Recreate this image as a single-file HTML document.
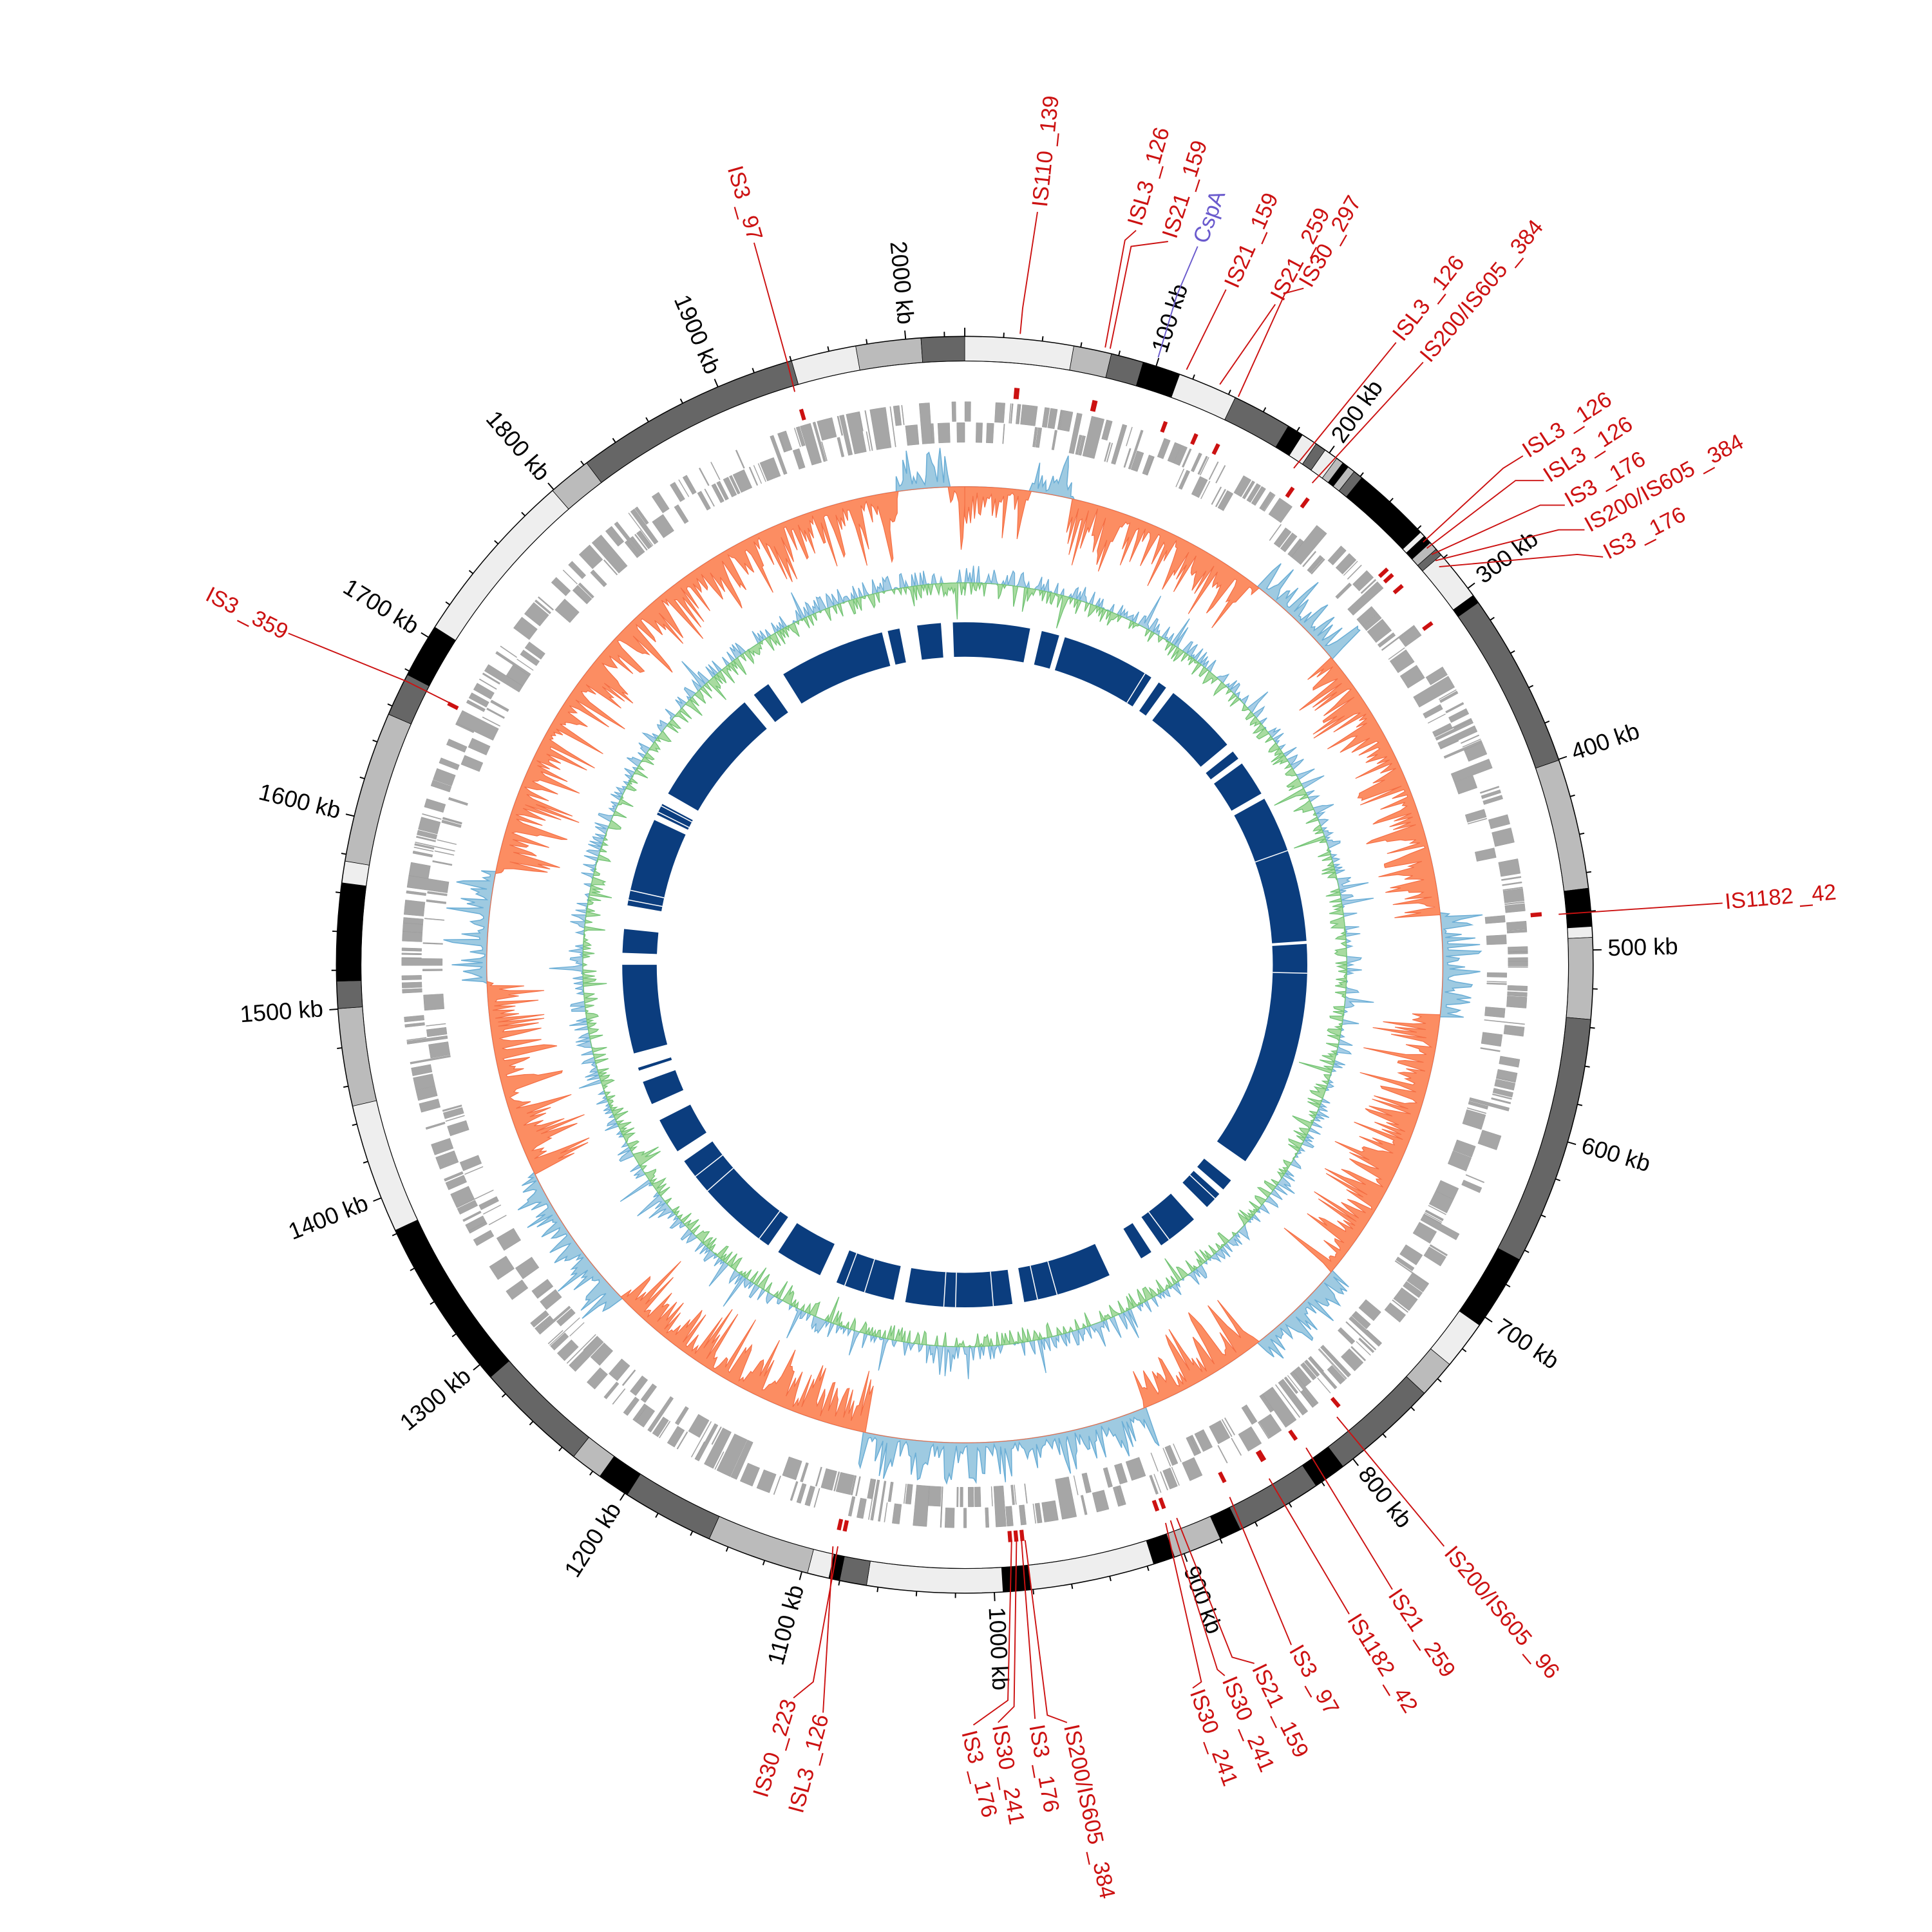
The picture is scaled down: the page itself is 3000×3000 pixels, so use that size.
<!DOCTYPE html>
<html><head><meta charset="utf-8">
<style>html,body{margin:0;padding:0;background:#fff;}svg{display:block}
text{font-family:"Liberation Sans",sans-serif;}</style></head>
<body>
<svg id="s" xmlns="http://www.w3.org/2000/svg" width="3000" height="3000" viewBox="0 0 1568 1568">
<rect width="1568" height="1568" fill="#fff"/>
<g id="g"></g>
</svg>
<script>
(function(){
var CX=783,CY=783,NS="http://www.w3.org/2000/svg",G=document.getElementById("g");
var seed=12345;function rnd(){seed=(seed*1103515245+12345)%2147483648;return seed/2147483648;}
function P(a,r){var t=a*Math.PI/180;return [CX+r*Math.sin(t),CY-r*Math.cos(t)];}
function f(n){return n.toFixed(2);}
function sector(a1,a2,r1,r2){var p1=P(a1,r2),p2=P(a2,r2),p3=P(a2,r1),p4=P(a1,r1);var l=(a2-a1)>180?1:0;
return "M"+f(p1[0])+","+f(p1[1])+"A"+r2+","+r2+" 0 "+l+" 1 "+f(p2[0])+","+f(p2[1])+"L"+f(p3[0])+","+f(p3[1])+"A"+r1+","+r1+" 0 "+l+" 0 "+f(p4[0])+","+f(p4[1])+"Z";}
function el(tag,attrs,txt){var e=document.createElementNS(NS,tag);for(var k in attrs)e.setAttribute(k,attrs[k]);if(txt!=null)e.textContent=txt;G.appendChild(e);return e;}
var L="#eeeeee",Gr="#bbbbbb",D="#666666",B="#000000";
var segs=[[0,10,L],[10,13.5,Gr],[13.5,16.5,D],[16.5,20,B],[20,25.5,L],[25.5,31,D],[31,32.5,B],[32.5,34,L],[34,35,D],[35,36.3,L],[36.3,37,Gr],[37,37.6,B],[37.6,38.3,Gr],[38.3,39.2,D],[39.2,46.5,B],[46.5,47,L],[47,47.8,B],[47.8,48.6,Gr],[48.6,49.3,D],[49.3,54,L],[54,54.8,B],[54.8,71,D],[71,83,Gr],[83,86.5,B],[86.5,87.5,L],[87.5,95,Gr],[95,118,D],[118,125,B],[125,129.5,L],[129.5,133,Gr],[133,143,D],[143,146,B],[146,154,D],[154,156,B],[156,160.5,Gr],[160.5,162.5,B],[162.5,174,L],[174,176.5,B],[176.5,189,L],[189,191.5,D],[191.5,192.5,B],[192.5,194.5,L],[194.5,204,Gr],[204,212.5,D],[212.5,215.5,B],[215.5,218.5,Gr],[218.5,229,D],[229,245,B],[245,257,L],[257,266,Gr],[266,268.5,D],[268.5,277.5,B],[277.5,279.5,L],[279.5,293.5,Gr],[293.5,297.5,D],[297.5,302.5,B],[302.5,319,L],[319,323,Gr],[323,344,D],[344,350,L],[350,356,Gr],[356,360,D]];
segs.forEach(function(s){el("path",{d:sector(s[0],s[1],490,510),fill:s[2],stroke:"#000","stroke-width":0.4});});
el("circle",{cx:CX,cy:CY,r:510,fill:"none",stroke:"#000","stroke-width":0.8});
el("circle",{cx:CX,cy:CY,r:490,fill:"none",stroke:"#000","stroke-width":0.6});
var K=0.1773,td="";
for(var kb=0;kb<2030;kb+=20){var a=kb*K,len=(kb%100==0)?7:4;var p=P(a,510),q=P(a,510+len);td+="M"+f(p[0])+","+f(p[1])+"L"+f(q[0])+","+f(q[1]);}
el("path",{d:td,stroke:"#000","stroke-width":1,fill:"none"});
for(var kb=100;kb<=2000;kb+=100){var a=kb*K,p=P(a,522);var left=a>180;
el("text",{x:f(p[0]),y:f(p[1]),"font-size":19,"text-anchor":left?"end":"start","dominant-baseline":"middle",transform:"rotate("+f(left?a+90:a-90)+" "+f(p[0])+" "+f(p[1])+")",fill:"#000"},kb+" kb");}
var marks=[[648,325],[825,314],[826,314],[889,322],[890,322],[947,340],[972,350],[990,358],[1050,395],[1065,400],[1128,460],[1135,462],[1150,465],[1163,505],[1250,742],[1252,742],[1088,1143],[1053,1170],[1028,1188],[1027,1189],[995,1205],[945,1225],[940,1228],[830,1252],[825,1252],[820,1252],[685,1245],[680,1245],[362,570]];
var md="";marks.forEach(function(m){var a=Math.atan2(m[0]-CX,-(m[1]-CY))*180/Math.PI;if(a<0)a+=360;md+=sector(a-0.2,a+0.2,461,470);});
el("path",{d:md,fill:"#cc1111"});
// gene track: finer
var gd="",a=0;
while(a<360){var ln=0.06+Math.pow(rnd(),2.5)*1.6;var lane=rnd()<0.5;var r1=lane?441:424,r2=lane?457:440;if(rnd()<0.12){r1=424;r2=457;}
gd+=sector(a,Math.min(360,a+ln),r1,r2);a+=ln+Math.pow(rnd(),2)*0.6;}
el("path",{d:gd,fill:"#a6a6a6",stroke:"#9a9a9a","stroke-width":0.25});
var blue=[[-8,-2],[8,13],[38,50],[84,96],[130,142],[158,192],[226,244],[268,281],[352,356]];
function isBlue(a){for(var i=0;i<blue.length;i++){var b0=blue[i][0],b1=blue[i][1];var x=a;if(b0<0&&x>180)x-=360;if(x>=b0&&x<=b1)return true;}return false;}
var R0=388;var st=0.25;
var pd=[],nd=[];
for(var a=0;a<=360;a+=st){var env=0.35+0.65*Math.abs(Math.sin(a*0.9+1));var v=(0.1+0.9*Math.pow(rnd(),1.6))*env;var isb=isBlue(a);
pd.push(isb?v*36:0);nd.push(isb?0:v*58);}
function trace(arr,sign,base){var s="";for(var i=0;i<arr.length;i++){var p=P(i*st,base+sign*arr[i]);s+=(i?"L":"M")+f(p[0])+","+f(p[1]);}
for(var i=arr.length-1;i>=0;i--){var p=P(i*st,base);s+="L"+f(p[0])+","+f(p[1]);}return s+"Z";}
el("path",{d:trace(pd,1,R0),fill:"#9ecae1",stroke:"#6baed6","stroke-width":0.8});
el("path",{d:trace(nd,-1,R0),fill:"#fc8d62",stroke:"#f46d43","stroke-width":0.6});
var R1=310,gp=[],gn=[];
for(var a=0;a<=360;a+=st){var v=(rnd()-0.5)*2;var m=rnd()<0.06?2.5:1;v*=m*12;
if(v>0){gp.push(v);gn.push(0);}else{gn.push(-v);gp.push(0);}}
el("path",{d:trace(gp,1,R1),fill:"#a6cde6",stroke:"#6baed6","stroke-width":0.7});
el("path",{d:trace(gn,-1,R1),fill:"#a8dba0",stroke:"#74c476","stroke-width":0.7});
var nv=[[-20,-14],[-13,-11],[-8,-4],[-2,11],[13,16],[17,33],[34.5,36],[37.5,50],[51.5,53],[54,60],[61,86],[86.5,125],[129,131],[132,135],[138,145],[147,149],[155,170],[172,190],[192,202],[205,213],[215,235],[237,243],[246,250],[252,252.5],[255,270],[272,276],[280,295],[296,298],[300,320],[322,325],[328,343]];
var nvd="";nv.forEach(function(s){nvd+=sector(s[0],s[1],250,278);});
el("path",{d:nvd,fill:"#0b3d7e"});
var wl="";for(var i=0;i<25;i++){var a=rnd()*360;var p=P(a,250),q=P(a,278);wl+="M"+f(p[0])+","+f(p[1])+"L"+f(q[0])+","+f(q[1]);}
el("path",{d:wl,stroke:"#fff","stroke-width":0.8});
var RED="#cc1111";
var leaders=[[[645,318],[640,298],[612,197]],[[828,271],[830,250],[842,172]],[[897,282],[913,195],[922,187]],[[901,283],[918,200],[948,196]],
[[963,300],[995,235]],[[990,312],[1035,247]],[[1005,322],[1043,238],[1058,234]],[[1050,380],[1133,278]],[[1065,392],[1155,294]],
[[1155,440],[1220,380],[1236,370]],[[1158,445],[1230,390],[1253,390]],[[1162,450],[1250,410],[1270,410]],[[1165,455],[1265,430],[1286,430]],[[1168,460],[1280,450],[1301,452]],
[[1265,742],[1398,733]],[[1085,1150],[1172,1255]],[[1060,1175],[1130,1290]],[[1030,1200],[1095,1310]],[[998,1215],[1048,1335]],
[[955,1232],[1000,1345],[1018,1350]],[[950,1234],[988,1355],[994,1360]],[[946,1236],[975,1365],[968,1370]],
[[832,1250],[850,1392],[866,1398]],[[829,1250],[840,1395]],[[825,1250],[823,1385],[810,1398]],[[821,1250],[818,1380],[790,1400]],
[[680,1255],[660,1365],[644,1378]],[[676,1255],[668,1390]],[[368,572],[330,553],[234,514]]];
leaders.forEach(function(l){el("polyline",{points:l.map(function(p){return p.join(",");}).join(" "),fill:"none",stroke:RED,"stroke-width":1});});
el("polyline",{points:"940,290 955,240 972,200",fill:"none",stroke:"#6a5acd","stroke-width":1});
var labels=[["IS3 _97",612,195,74,"end"],["IS110 _139",845,168,-84,"start"],["ISL3 _126",922,183,-74,"start"],["IS21 _159",950,193,-72,"start"],
["IS21 _159",1000,233,-66,"start"],["IS21 _259",1037,243,-62,"start"],["IS30 _297",1060,232,-60,"start"],["ISL3 _126",1135,275,-52,"start"],
["IS200/IS605 _384",1157,292,-50,"start"],["ISL3 _126",1238,368,-33,"start"],["ISL3 _126",1255,388,-33,"start"],["IS3 _176",1272,408,-30,"start"],
["IS200/IS605 _384",1288,428,-29,"start"],["IS3 _176",1303,450,-27,"start"],["IS1182 _42",1400,733,-5,"start"],
["IS200/IS605 _96",1175,1258,50,"start"],["IS21 _259",1130,1292,56,"start"],["IS1182 _42",1097,1312,58,"start"],["IS3 _97",1050,1337,60,"start"],
["IS21 _159",1020,1352,64,"start"],["IS30 _241",996,1362,67,"start"],["IS30 _241",970,1372,70,"start"],
["IS200/IS605 _384",868,1400,78,"start"],["IS3 _176",840,1400,80,"start"],["IS30 _241",810,1400,80,"start"],["IS3 _176",785,1405,76,"start"],
["IS30 _223",642,1380,-73,"end"],["ISL3 _126",668,1392,-75,"end"],["IS3 _359",232,515,27,"end"]];
labels.forEach(function(t){el("text",{x:t[1],y:t[2],"font-size":18,fill:RED,"text-anchor":t[4],"dominant-baseline":"middle",transform:"rotate("+t[3]+" "+t[1]+" "+t[2]+")"},t[0]);});
el("text",{x:975,y:197,"font-size":18,fill:"#6a5acd","text-anchor":"start","dominant-baseline":"middle",transform:"rotate(-70 975 197)"},"CspA");
})();
</script>
</body></html>
